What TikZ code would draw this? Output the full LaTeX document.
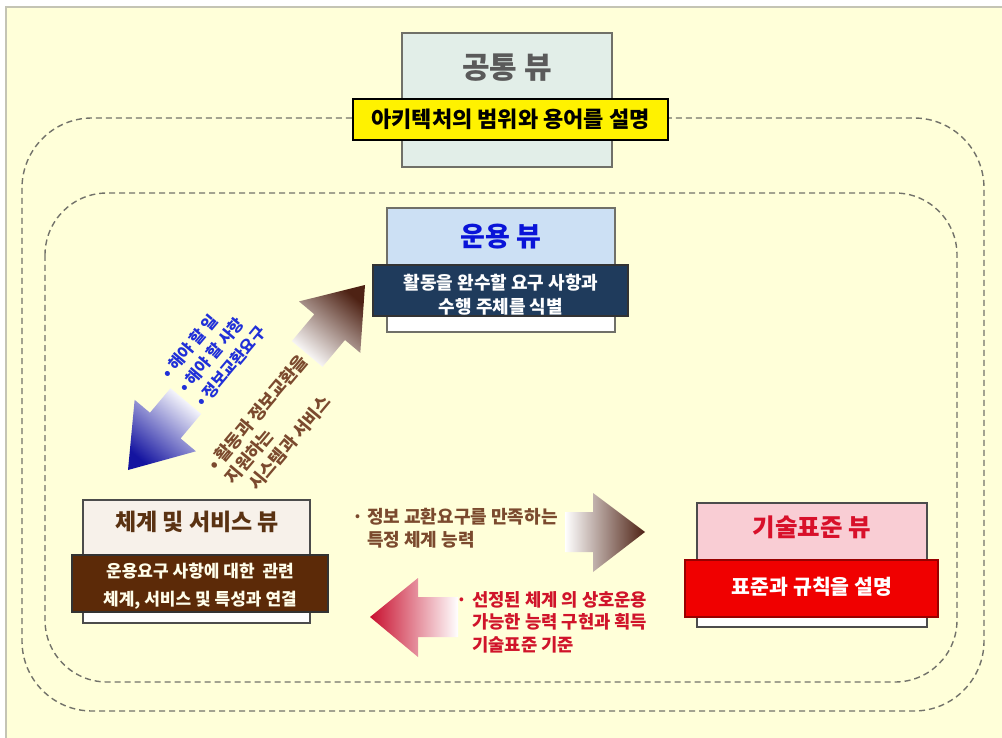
\documentclass[tikz,border=0pt]{standalone}
\usepackage{fontspec}
\setmainfont{Noto Sans CJK KR}
\usetikzlibrary{calc}
\definecolor{bgc}{HTML}{FFFFD9}
\definecolor{framegray}{HTML}{C4C4B4}
\definecolor{dashgray}{HTML}{72726A}
\definecolor{comfill}{HTML}{E2EEE8}
\definecolor{comtitle}{HTML}{5A5A5A}
\definecolor{boxgray}{HTML}{707068}
\definecolor{opfill}{HTML}{CCE0F4}
\definecolor{opdark}{HTML}{1F3B5C}
\definecolor{optitle}{HTML}{0A14D8}
\definecolor{sysfill}{HTML}{F7F1EA}
\definecolor{sysdark}{HTML}{5C2A08}
\definecolor{systitle}{HTML}{5A3212}
\definecolor{stdfill}{HTML}{F9CDD4}
\definecolor{stdred}{HTML}{F00000}
\definecolor{stdtitle}{HTML}{D8102A}
\definecolor{bluetxt}{HTML}{2030D8}
\definecolor{browntxt}{HTML}{7B4A2E}
\definecolor{redtxt}{HTML}{D0142A}
\definecolor{bluetip}{HTML}{1414A0}
\definecolor{bluemid}{HTML}{9494D4}
\definecolor{browntip}{HTML}{4E2214}
\definecolor{brownmid}{HTML}{AC9A9A}
\definecolor{redtip}{HTML}{C8102E}
\definecolor{redmid}{HTML}{E58A98}
\newcommand\fsz[2]{\fontsize{#1}{#2}\selectfont}
\tikzset{
  dashline/.style={draw=dashgray, line width=1.4pt, dash pattern=on 6pt off 4pt},
  viewbox/.style={draw=boxgray, line width=1.5pt, inner sep=0pt},
  barbox/.style={line width=1.2pt, inner sep=0pt},
  titletext/.style={inner sep=0pt, font=\bfseries},
  bartext/.style={inner sep=0pt, font=\bfseries, align=center},
  notetext/.style={inner sep=0pt, font=\bfseries, align=left}
}
\begin{document}
\begin{tikzpicture}[x=1pt, y=-1pt]
\useasboundingbox (0,0) rectangle (1002,738);
% background and frame
\fill[white] (0,0) rectangle (1002,738);
\fill[bgc] (6,7) rectangle (1002,738);
\draw[framegray, line width=2pt] (6,738) -- (6,7) -- (1002,7);
% dashed regions
\draw[dashline, rounded corners=70pt] (22,118) rectangle (984,711);
\draw[dashline, rounded corners=62pt] (45,193) rectangle (957,682);

% ---------- common view ----------
\node[viewbox, fill=comfill, minimum width=210, minimum height=134] (common) at (507,100) {};
\node[titletext, text=comtitle, font=\bfseries\fsz{30}{34}] (commontitle) at (507,68) {공통 뷰};
\node[barbox, draw=black, fill=yellow, minimum width=315, minimum height=41, font=\bfseries\fsz{22}{26}] (commonbar) at (510.5,119.5) {아키텍처의 범위와 용어를 설명};

% ---------- operational view ----------
\node[viewbox, fill=opfill, minimum width=228, minimum height=124] (op) at (501,270) {};
\fill[white] (387.75,316) rectangle (614.25,331.25);
\node[titletext, text=optitle, font=\bfseries\fsz{27}{30}] (optitle) at (501,237) {운용 뷰};
\node[barbox, draw=black!80, fill=opdark, minimum width=255, minimum height=51] (opbar) at (500.5,290.5) {};
\node[bartext, text=white, font=\bfseries\fsz{18}{24}] (optext) at (501,295) {활동을 완수할 요구 사항과\\수행 주체를 식별};

% ---------- systems & services view ----------
\node[viewbox, draw=black!70, fill=sysfill, minimum width=227, minimum height=123] (sys) at (196.5,561.5) {};
\fill[white] (83.75,612) rectangle (309.25,622.25);
\node[titletext, text=systitle, font=\bfseries\fsz{23}{26}] (systitle) at (197,522) {체계 및 서비스 뷰};
\node[barbox, draw=black!80, fill=sysdark, minimum width=256, minimum height=57] (sysbar) at (200,583.5) {};
\node[bartext, text=white!92!yellow, font=\bfseries\fsz{17}{28}] (systext) at (200,586) {운용요구 사항에 대한~~관련\\체계, 서비스 및 특성과 연결};

% ---------- technical standards view ----------
\node[viewbox, draw=black!70, fill=stdfill, minimum width=230, minimum height=124] (std) at (812,565) {};
\fill[white] (697.75,617) rectangle (926.25,626.25);
\node[titletext, text=stdtitle, font=\bfseries\fsz{24.5}{28}] (stdtitle) at (812,527) {기술표준 뷰};
\node[barbox, draw=red!60!black, fill=stdred, minimum width=253, minimum height=57] (stdbar) at (811.5,588.5) {};
\node[bartext, text=white, font=\bfseries\fsz{20.5}{24}] (stdtext) at (812,587) {표준과 규칙을 설명};

% ---------- block arrows ----------
% down-left (blue), towards systems view
\begin{scope}[shift={(128,470)}, rotate=230]
  \shade[top color=bluetip, middle color=bluemid, bottom color=white, shading angle=140]
    (-90,-20) -- (-58,-20) -- (-58,-40) -- (0,0) -- (-58,40) -- (-58,20) -- (-90,20) -- cycle;
\end{scope}
% up-right (brown), towards operational view
\begin{scope}[shift={(365,285)}, rotate=50]
  \shade[top color=browntip, middle color=brownmid, bottom color=white, shading angle=-40]
    (-90,-20) -- (-55,-20) -- (-55,-40) -- (0,0) -- (-55,40) -- (-55,20) -- (-90,20) -- cycle;
\end{scope}
% right (brown), towards standards view
\shade[left color=white, middle color=brownmid, right color=browntip]
  (565,512) -- (593,512) -- (593,493) -- (645,532) -- (593,572) -- (593,552) -- (565,552) -- cycle;
% left (red), towards systems view
\shade[left color=redtip, middle color=redmid, right color=white]
  (458,597) -- (418,597) -- (418,578) -- (370,617) -- (418,657) -- (418,637) -- (458,637) -- cycle;

% ---------- notes ----------
\node[notetext, text=bluetxt, font=\bfseries\fsz{16}{22}, rotate=50, anchor=west] (bluenote) at (182,390)
  {• 해야 할 일\\• 해야 할 사항\\• 정보교환요구};
\node[notetext, text=browntxt, font=\bfseries\fsz{17.5}{22}, rotate=50, anchor=west] (brownnote) at (228,482)
  {• 활동과 정보교환을\\\hspace*{1pt}지원하는\\\hspace*{11pt}시스템과 서비스};
\node[notetext, text=browntxt, font=\bfseries\fsz{18}{23}, anchor=north west] (capnote) at (352,508)
  {\makebox[15pt][l]{·}정보 교환요구를 만족하는\\\hspace*{15pt}특정 체계 능력};
\node[notetext, text=redtxt, font=\bfseries\fsz{17.7}{22.5}, anchor=north west] (stdnote) at (456,591)
  {\makebox[16pt][l]{·}선정된 체계 의 상호운용\\\hspace*{16pt}가능한 능력 구현과 획득\\\hspace*{16pt}기술표준 기준};
\end{tikzpicture}
\end{document}
